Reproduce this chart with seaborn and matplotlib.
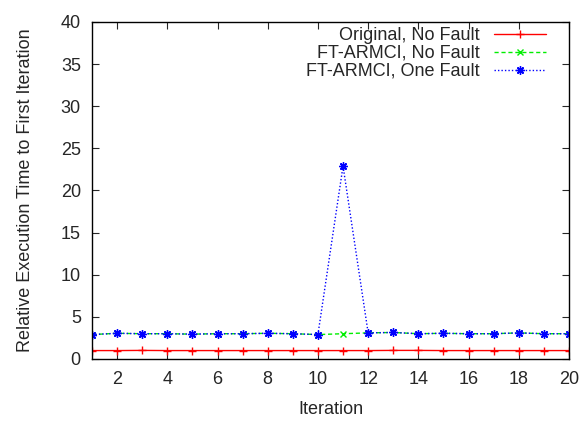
import numpy as np
import pandas as pd
import matplotlib.pyplot as plt
import seaborn as sns

iterations = list(range(1, 21))
original_no_fault = [1.0, 1.0, 1.02, 1.0, 1.0, 1.0, 1.0, 1.0, 1.0, 1.0,
                     1.0, 1.0, 1.02, 1.02, 1.0, 1.0, 1.0, 1.0, 1.0, 1.0]
ft_no_fault = [2.9, 3.05, 3.0, 3.0, 2.95, 3.0, 3.0, 3.05, 3.0, 2.9,
               3.0, 3.1, 3.15, 3.0, 3.05, 3.0, 3.0, 3.1, 3.0, 3.0]
ft_one_fault = [2.9, 3.05, 3.0, 3.0, 2.95, 3.0, 3.0, 3.05, 3.0, 2.9,
                22.9, 3.1, 3.15, 3.0, 3.05, 3.0, 3.0, 3.1, 3.0, 3.0]

series = {
    "Original, No Fault": original_no_fault,
    "FT-ARMCI, No Fault": ft_no_fault,
    "FT-ARMCI, One Fault": ft_one_fault,
}
df = pd.DataFrame(
    [(it, name, v) for name, vals in series.items() for it, v in zip(iterations, vals)],
    columns=["iteration", "series", "time"],
)

sns.set_style("ticks")
plt.rcParams['font.family'] = ['Liberation Sans', 'DejaVu Sans']

styles = {
    "Original, No Fault": dict(color="#ff0000", linestyle="-", marker="+", markersize=6),
    "FT-ARMCI, No Fault": dict(color="#00ee00", linestyle=(0, (3, 2)), marker="x", markersize=4.5),
    "FT-ARMCI, One Fault": dict(color="#0000ff", linestyle=(0, (1, 1.5)), marker=(8, 2, 0), markersize=6),
}

fig = plt.figure(figsize=(5.87, 4.22), dpi=100)
ax = fig.add_axes([0.1567, 0.1493, 0.8126, 0.7986])
for name in series:
    sub = df[df["series"] == name]
    st = styles[name]
    sns.lineplot(data=sub, x="iteration", y="time", ax=ax, label=name,
                 color=st["color"], linestyle=st["linestyle"], marker=st["marker"],
                 markersize=st["markersize"], markeredgewidth=1.0, linewidth=1.0,
                 markeredgecolor=st["color"])

ax.set_xlim(1, 20)
ax.set_ylim(0, 40)
ax.set_xticks(range(2, 21, 2))
ax.set_yticks(range(0, 41, 5))
ax.tick_params(direction="in", top=True, right=True, labelsize=13, length=5, width=0.8)
ax.tick_params(axis="x", pad=9)
ax.tick_params(axis="y", pad=8)
for s in ax.spines.values():
    s.set_visible(True)
    s.set_linewidth(1.0)
    s.set_color("black")
ax.set_xlabel("Iteration", fontsize=13, labelpad=9)
ax.set_ylabel("Relative Execution Time to First Iteration", fontsize=13, labelpad=19)
ax.legend(loc="upper right", bbox_to_anchor=(0.952, 0.985), frameon=False,
          markerfirst=False, fontsize=13, handlelength=2.9, borderaxespad=0,
          borderpad=0, labelspacing=0.05, handletextpad=0.78)

fig.savefig("out.png", dpi=100)
